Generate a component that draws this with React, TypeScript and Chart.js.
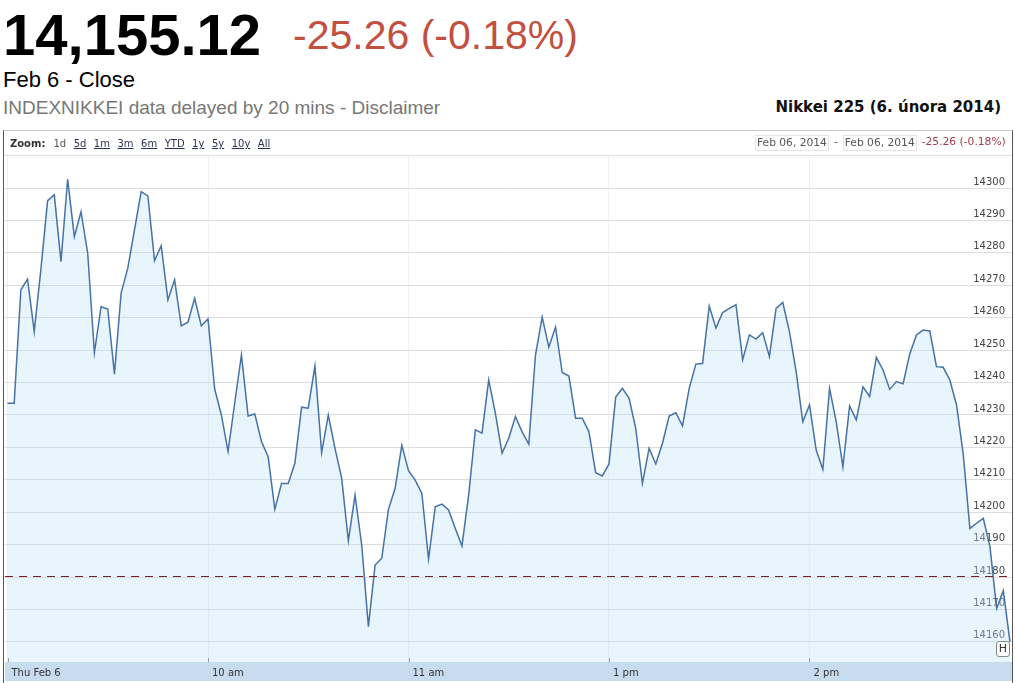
import React, { useEffect, useRef } from 'react';
import { Chart, registerables } from 'chart.js';

Chart.register(...registerables);

// ---- data ----
const prices: number[] = [
  14233.6, 14233.6, 14268.6, 14271.9, 14255.7, 14275.0, 14296.1, 14297.9, 14277.3, 14302.7,
  14285.0, 14292.7, 14279.9, 14249.2, 14263.4, 14262.7, 14242.6, 14267.6, 14275.3, 14287.1,
  14298.9, 14297.6, 14277.6, 14282.2, 14265.5, 14271.7, 14257.5, 14258.6, 14266.0, 14257.5,
  14259.6, 14238.0, 14230.0, 14218.7, 14233.7, 14248.5, 14229.7, 14230.3, 14221.8, 14217.1,
  14200.9, 14208.9, 14208.9, 14215.1, 14232.4, 14232.1, 14245.1, 14218.4, 14230.0, 14219.7,
  14210.5, 14191.2, 14205.3, 14189.9, 14164.7, 14183.7, 14185.8, 14200.9, 14207.4, 14220.7,
  14212.8, 14209.9, 14205.8, 14185.5, 14201.7, 14202.5, 14200.7, 14195.0, 14189.6, 14205.3,
  14225.4, 14224.4, 14240.8, 14230.5, 14218.2, 14222.8, 14229.5, 14224.8, 14221.0, 14248.5,
  14260.2, 14250.9, 14257.1, 14243.1, 14242.0, 14229.0, 14229.0, 14224.8, 14212.2, 14211.2,
  14214.9, 14235.5, 14238.2, 14235.2, 14225.9, 14208.9, 14219.7, 14214.9, 14221.3, 14229.7,
  14230.7, 14226.6, 14238.2, 14245.7, 14245.9, 14263.6, 14256.8, 14261.6, 14262.9, 14264.0,
  14247.0, 14254.7, 14253.4, 14255.4, 14248.0, 14262.9, 14264.7, 14255.7, 14243.4, 14227.9,
  14233.1, 14219.2, 14213.2, 14238.2, 14227.9, 14214.0, 14232.8, 14228.5, 14238.7, 14235.7,
  14247.8, 14243.9, 14237.9, 14240.3, 14239.6, 14248.8, 14254.7, 14256.2, 14255.9, 14244.9,
  14244.7, 14240.8, 14233.1, 14218.0, 14195.0, 14196.6, 14198.1, 14189.4, 14170.3, 14175.8,
  14160.0,
];
const sampleMinutes = 2; // trading minutes between samples
const xTickMinutes: number[] = [0, 60, 120, 180, 240];
const xTickLabels: string[] = ['Thu Feb 6', '10 am', '11 am', '1 pm', '2 pm'];
const yTickValues: number[] = [
  14160, 14170, 14180, 14190, 14200, 14210, 14220, 14230, 14240, 14250, 14260, 14270, 14280, 14290, 14300,
];
const previousClose = 14180.38;
const lastPrice = '14,155.12';
const changeText = '-25.26 (-0.18%)';
const zoomOptions: string[] = ['1d', '5d', '1m', '3m', '6m', 'YTD', '1y', '5y', '10y', 'All'];
const dateFrom = 'Feb 06, 2014';
const dateTo = 'Feb 06, 2014';
const chartTitle = 'Nikkei 225 (6. února 2014)';

const ARIAL = '"Liberation Sans", Arial, sans-serif';
const VERDANA = '"DejaVu Sans", Verdana, sans-serif';

export default function App() {
  const canvasRef = useRef<HTMLCanvasElement | null>(null);

  useEffect(() => {
    const canvas = canvasRef.current;
    if (!canvas) return;
    const points = prices.map((v, i) => ({ x: i * sampleMinutes, y: v }));

    const bandPlugin = {
      id: 'band',
      beforeDraw(chart: any) {
        const { ctx, chartArea } = chart;
        ctx.save();
        ctx.fillStyle = '#c8dcf0';
        ctx.fillRect(chartArea.left, chartArea.bottom, chartArea.right - chartArea.left, 19);
        ctx.restore();
      },
      afterDraw(chart: any) {
        const { ctx, chartArea, scales } = chart;
        ctx.save();
        ctx.strokeStyle = '#9a9a9a';
        ctx.lineWidth = 1;
        xTickMinutes.forEach((m) => {
          const px = Math.round(scales.x.getPixelForValue(m)) + 0.5;
          ctx.beginPath();
          ctx.moveTo(px, chartArea.bottom - 4);
          ctx.lineTo(px, chartArea.bottom);
          ctx.stroke();
        });
        ctx.restore();
      },
    };

    const prevClosePlugin = {
      id: 'prevClose',
      afterDatasetsDraw(chart: any) {
        const { ctx, chartArea, scales } = chart;
        const py = Math.round(scales.y.getPixelForValue(previousClose)) + 0.5;
        ctx.save();
        ctx.strokeStyle = '#7a1f1f';
        ctx.lineWidth = 1;
        ctx.setLineDash([8, 6]);
        ctx.beginPath();
        ctx.moveTo(chartArea.left, py);
        ctx.lineTo(chartArea.right, py);
        ctx.stroke();
        ctx.restore();
      },
    };

    const chart = new Chart(canvas, {
      type: 'line',
      data: {
        datasets: [
          {
            data: points,
            borderColor: '#4572a7',
            borderWidth: 1.5,
            pointRadius: 0,
            tension: 0,
            fill: 'start',
            backgroundColor: 'rgba(190,225,248,0.35)',
          },
        ],
      },
      options: {
        animation: false,
        responsive: false,
        maintainAspectRatio: false,
        layout: { padding: { left: 5, right: 3, top: 0, bottom: 1 } },
        plugins: { legend: { display: false }, tooltip: { enabled: false } },
        scales: {
          x: {
            type: 'linear',
            min: -0.75,
            max: 300.6,
            afterBuildTicks: (s: any) => {
              s.ticks = xTickMinutes.map((v) => ({ value: v }));
            },
            afterFit: (s: any) => {
              s.height = 20;
              s.paddingLeft = 0;
              s.paddingRight = 0;
            },
            grid: { color: '#f0f0f0', drawTicks: false },
            border: { display: false },
            ticks: {
              autoSkip: false,
              maxRotation: 0,
              align: 'start',
              labelOffset: 4,
              padding: 5,
              color: '#333',
              font: { family: VERDANA, size: 10 },
              callback: (v: any) => {
                const i = xTickMinutes.indexOf(Number(v));
                return i >= 0 ? xTickLabels[i] : '';
              },
            },
          },
          y: {
            type: 'linear',
            position: 'right',
            min: 14153.8,
            max: 14310.2,
            afterBuildTicks: (s: any) => {
              s.ticks = yTickValues.map((v) => ({ value: v }));
            },
            afterFit: (s: any) => {
              s.width = 0;
              s.paddingTop = 0;
              s.paddingBottom = 0;
            },
            grid: { color: '#dcdcdc', drawTicks: false },
            border: { display: false },
            ticks: {
              mirror: true,
              padding: -7,
              labelOffset: -6,
              color: '#444',
              font: { family: VERDANA, size: 10 },
              callback: (v: any) => String(v),
            },
          },
        },
      } as any,
      plugins: [bandPlugin, prevClosePlugin],
    });
    return () => chart.destroy();
  }, []);

  const abs = (s: React.CSSProperties): React.CSSProperties => ({
    position: 'absolute',
    whiteSpace: 'nowrap',
    lineHeight: 1,
    margin: 0,
    ...s,
  });

  return (
    <div style={{ position: 'absolute', left: 0, top: 0, width: 1015, height: 683, overflow: 'hidden', background: '#fff' }}>
      <div style={abs({ left: 3, top: 6, fontFamily: ARIAL, fontWeight: 'bold', fontSize: 58, color: '#000' })}>
        {lastPrice}
      </div>
      <div style={abs({ left: 293, top: 15, fontFamily: ARIAL, fontSize: 41, color: '#c2503f' })}>{changeText}</div>
      <div style={abs({ left: 3, top: 69, fontFamily: ARIAL, fontSize: 22, color: '#000' })}>Feb 6 - Close</div>
      <div style={abs({ left: 3, top: 98, fontFamily: ARIAL, fontSize: 19, color: '#777' })}>
        INDEXNIKKEI data delayed by 20 mins - Disclaimer
      </div>
      <div style={abs({ right: 14, top: 100, fontFamily: VERDANA, fontWeight: 'bold', fontSize: 15, color: '#111' })}>
        {chartTitle}
      </div>

      <canvas
        ref={canvasRef}
        width={1015}
        height={528}
        style={{ position: 'absolute', left: 0, top: 155, width: 1015, height: 528 }}
      />

      {/* chart frame */}
      <div
        style={{
          position: 'absolute',
          left: 3,
          top: 130,
          width: 1008,
          height: 600,
          borderTop: '1px solid #c8c8c8',
          borderLeft: '1px solid #555',
          borderRight: '1px solid #555',
          pointerEvents: 'none',
        }}
      />
      <div style={{ position: 'absolute', left: 4, top: 155, width: 1008, height: 1, background: '#e2e2e2' }} />

      {/* zoom bar */}
      <div style={abs({ left: 10, top: 138, fontFamily: VERDANA, fontSize: 10, color: '#333', lineHeight: '12px' })}>
        <span style={{ fontWeight: 'bold' }}>Zoom:</span>
        {zoomOptions.map((z, i) => (
          <span
            key={z}
            style={{
              marginLeft: i === 0 ? 8 : 7.5,
              textDecoration: i === 0 ? 'none' : 'underline',
              color: i === 0 ? '#555' : '#2c3350',
            }}
          >
            {z}
          </span>
        ))}
      </div>
      <div style={abs({ left: 755, top: 135, fontFamily: VERDANA, fontSize: 10.7, color: '#555', lineHeight: '14px', display: 'flex' })}>
        <span style={{ border: '1px solid #e4e4e4', padding: '0 1px' }}>{dateFrom}</span>
        <span style={{ margin: '0 5px' }}>-</span>
        <span style={{ border: '1px solid #e4e4e4', padding: '0 1px' }}>{dateTo}</span>
        <span style={{ marginLeft: 5, color: '#a33a4e' }}>{changeText}</span>
      </div>

      {/* H flag */}
      <div
        style={abs({
          left: 996,
          top: 641,
          width: 12,
          height: 14,
          border: '1px solid #888',
          borderRadius: 3,
          background: '#fff',
          fontFamily: VERDANA,
          fontSize: 11,
          lineHeight: '14px',
          textAlign: 'center',
          color: '#333',
        })}
      >
        H
      </div>
    </div>
  );
}
